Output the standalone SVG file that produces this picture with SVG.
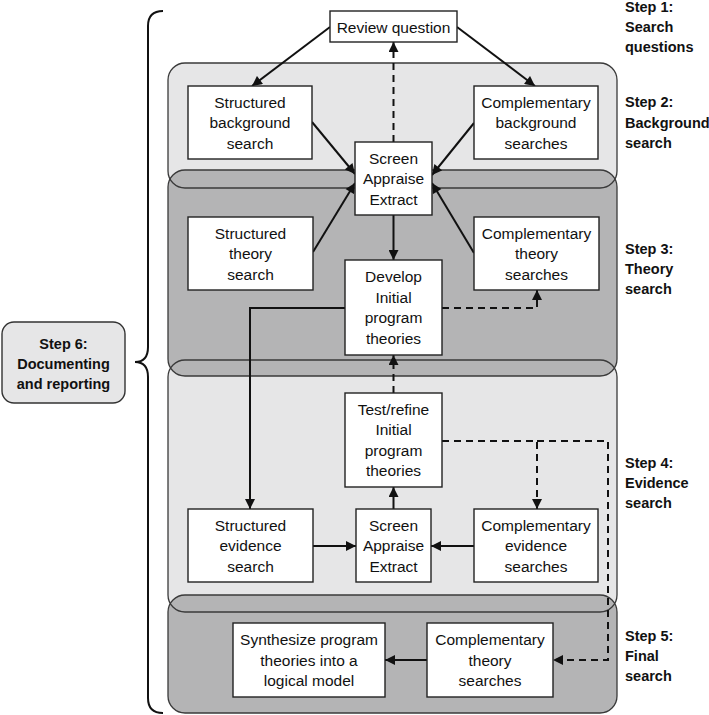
<svg xmlns="http://www.w3.org/2000/svg" width="709" height="715" viewBox="0 0 709 715">
<defs>
<style>
.light{fill:#e6e6e7;stroke:none}
.dark{fill:#b4b4b5;stroke:#3a3a3a;stroke-width:1.3}
.lout{fill:none;stroke:#3a3a3a;stroke-width:1.3}
.box{fill:#ffffff;stroke:#222;stroke-width:1.4}
.t{font-family:"Liberation Sans",Arial,sans-serif;font-size:15.5px;fill:#111;text-anchor:middle}
.s{font-family:"Liberation Sans",Arial,sans-serif;font-size:14.5px;font-weight:bold;fill:#111}
.c{fill:none;stroke:#111;stroke-width:2}
.d{fill:none;stroke:#111;stroke-width:2;stroke-dasharray:7 5}
</style>
<marker id="ah" viewBox="0 0 10 10" refX="10" refY="5" markerWidth="11" markerHeight="10" markerUnits="userSpaceOnUse" orient="auto">
<path d="M0,0 L10,5 L0,10 Z" fill="#111" stroke="none"/>
</marker>
</defs>

<g id="background">
<rect class="light" x="168" y="63" width="449" height="125" rx="17"/>
<rect class="light" x="168" y="360" width="449" height="252" rx="17"/>
<rect class="dark" x="168" y="170" width="449" height="206" rx="17"/>
<rect class="dark" x="168" y="595" width="449" height="118" rx="17"/>
<rect class="lout" x="168" y="63" width="449" height="125" rx="17"/>
<rect class="lout" x="168" y="360" width="449" height="252" rx="17"/>
<path class="c" d="M163,11 Q148,11 148,26 L148,347 Q148,362 135,362 Q148,362 148,377 L148,698 Q148,713 163,713" stroke-width="2.2"/>
</g>

<g id="step-labels">
<text class="s" x="625" y="12">Step 1:</text>
<text class="s" x="625" y="32">Search</text>
<text class="s" x="625" y="52">questions</text>
<text class="s" x="625" y="107">Step 2:</text>
<text class="s" x="625" y="127.5">Background</text>
<text class="s" x="625" y="147.5">search</text>
<text class="s" x="625" y="253.5">Step 3:</text>
<text class="s" x="625" y="273.5">Theory</text>
<text class="s" x="625" y="293.5">search</text>
<text class="s" x="625" y="467.5">Step 4:</text>
<text class="s" x="625" y="487.5">Evidence</text>
<text class="s" x="625" y="508">search</text>
<text class="s" x="625" y="640.5">Step 5:</text>
<text class="s" x="625" y="660.5">Final</text>
<text class="s" x="625" y="681">search</text>
</g>

<g id="step6">
<rect x="2" y="322" width="123" height="81" rx="12" fill="#e6e6e7" stroke="#333" stroke-width="1.4"/>
<text class="s" x="63.5" y="348.5" text-anchor="middle">Step 6:</text>
<text class="s" x="63.5" y="368.5" text-anchor="middle">Documenting</text>
<text class="s" x="63.5" y="388.5" text-anchor="middle">and reporting</text>
</g>

<g id="connectors">
<line class="c" x1="330" y1="27" x2="252" y2="86" marker-end="url(#ah)"/>
<line class="c" x1="457" y1="27" x2="535" y2="86" marker-end="url(#ah)"/>
<line class="d" x1="393.5" y1="142" x2="393.5" y2="42" marker-end="url(#ah)"/>
<line class="c" x1="312" y1="122" x2="355" y2="174" marker-end="url(#ah)"/>
<line class="c" x1="474" y1="123" x2="432" y2="175" marker-end="url(#ah)"/>
<line class="c" x1="313" y1="252" x2="355" y2="183" marker-end="url(#ah)"/>
<line class="c" x1="474" y1="253" x2="432" y2="183" marker-end="url(#ah)"/>
<line class="c" x1="393.5" y1="215" x2="393.5" y2="260" marker-end="url(#ah)"/>
<polyline class="c" points="345,308 250,308 250,509" marker-end="url(#ah)"/>
<polyline class="d" points="442,308 537,308 537,290" marker-end="url(#ah)"/>
<line class="d" x1="393.5" y1="393" x2="393.5" y2="355" marker-end="url(#ah)"/>
<line class="c" x1="393.5" y1="509" x2="393.5" y2="487" marker-end="url(#ah)"/>
<line class="c" x1="313" y1="546" x2="356" y2="546" marker-end="url(#ah)"/>
<line class="c" x1="474" y1="546" x2="431" y2="546" marker-end="url(#ah)"/>
<polyline class="d" points="442,441 537,441 537,509" marker-end="url(#ah)"/>
<polyline class="d" points="537,441 608,441 608,660 553,660" marker-end="url(#ah)"/>
<line class="c" x1="427" y1="660" x2="385" y2="660" marker-end="url(#ah)"/>
</g>

<g id="review-question">
<rect class="box" x="330" y="11" width="127" height="31"/>
<text class="t" x="393.5" y="32.5">Review question</text>
</g>

<g id="structured-background-search">
<rect class="box" x="188" y="86" width="124" height="73"/>
<text class="t" x="250" y="107.5">Structured</text>
<text class="t" x="250" y="128">background</text>
<text class="t" x="250" y="148.5">search</text>
</g>

<g id="complementary-background-searches">
<rect class="box" x="474" y="86" width="124" height="73"/>
<text class="t" x="536" y="107.5">Complementary</text>
<text class="t" x="536" y="128">background</text>
<text class="t" x="536" y="148.5">searches</text>
</g>

<g id="screen-appraise-extract-1">
<rect class="box" x="355" y="142" width="77" height="73"/>
<text class="t" x="393.5" y="163.5">Screen</text>
<text class="t" x="393.5" y="184">Appraise</text>
<text class="t" x="393.5" y="204.5">Extract</text>
</g>

<g id="structured-theory-search">
<rect class="box" x="188" y="217" width="125" height="73"/>
<text class="t" x="250.5" y="238.5">Structured</text>
<text class="t" x="250.5" y="259">theory</text>
<text class="t" x="250.5" y="279.5">search</text>
</g>

<g id="complementary-theory-searches">
<rect class="box" x="474" y="217" width="125" height="73"/>
<text class="t" x="536.5" y="238.5">Complementary</text>
<text class="t" x="536.5" y="259">theory</text>
<text class="t" x="536.5" y="279.5">searches</text>
</g>

<g id="develop-initial-program-theories">
<rect class="box" x="345" y="260" width="97" height="95"/>
<text class="t" x="393.5" y="282.25">Develop</text>
<text class="t" x="393.5" y="302.75">Initial</text>
<text class="t" x="393.5" y="323.25">program</text>
<text class="t" x="393.5" y="343.75">theories</text>
</g>

<g id="test-refine-initial-program-theories">
<rect class="box" x="345" y="393" width="97" height="94"/>
<text class="t" x="393.5" y="414.75">Test/refine</text>
<text class="t" x="393.5" y="435.25">Initial</text>
<text class="t" x="393.5" y="455.75">program</text>
<text class="t" x="393.5" y="476.25">theories</text>
</g>

<g id="structured-evidence-search">
<rect class="box" x="188" y="509" width="125" height="73"/>
<text class="t" x="250.5" y="530.5">Structured</text>
<text class="t" x="250.5" y="551">evidence</text>
<text class="t" x="250.5" y="571.5">search</text>
</g>

<g id="screen-appraise-extract-2">
<rect class="box" x="356" y="509" width="75" height="73"/>
<text class="t" x="393.5" y="530.5">Screen</text>
<text class="t" x="393.5" y="551">Appraise</text>
<text class="t" x="393.5" y="571.5">Extract</text>
</g>

<g id="complementary-evidence-searches">
<rect class="box" x="474" y="509" width="124" height="73"/>
<text class="t" x="536" y="530.5">Complementary</text>
<text class="t" x="536" y="551">evidence</text>
<text class="t" x="536" y="571.5">searches</text>
</g>

<g id="synthesize-program-theories">
<rect class="box" x="233" y="623" width="152" height="74"/>
<text class="t" x="309" y="645">Synthesize program</text>
<text class="t" x="309" y="665.5">theories into a</text>
<text class="t" x="309" y="686">logical model</text>
</g>

<g id="complementary-theory-searches-final">
<rect class="box" x="427" y="623" width="126" height="74"/>
<text class="t" x="490" y="645">Complementary</text>
<text class="t" x="490" y="665.5">theory</text>
<text class="t" x="490" y="686">searches</text>
</g>
</svg>
